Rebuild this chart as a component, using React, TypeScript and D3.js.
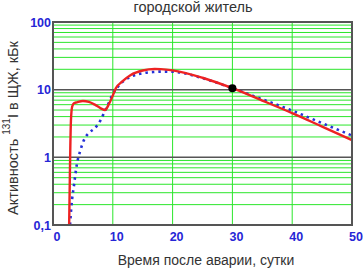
import React from "react";
import * as d3 from "d3";

const titleText = "городской житель";
const xLabelText = "Время после аварии, сутки";

const xTicks = [0, 10, 20, 30, 40, 50];
const xTickLabels = ["0", "10", "20", "30", "40", "50"];
const yDecades = [0.1, 1, 10, 100];
const yDecadeLabels = ["0,1", "1", "10", "100"];

const redDays = [2.7, 2.8, 2.9, 3.0, 3.2, 3.5, 4, 5, 6, 7, 8, 8.7, 9.3, 10, 10.5, 11.5, 13, 15, 17, 18, 20, 25, 30, 35, 40, 45, 50];
const redActivity = [0.1, 0.4, 1.5, 3.5, 5.6, 6.3, 6.5, 6.8, 6.6, 6.0, 5.3, 5.0, 6.0, 8.2, 10.5, 13, 16.5, 19.2, 20.2, 20.1, 19.3, 15.0, 10.5, 6.9, 4.5, 2.85, 1.8];

const blueDays = [2.85, 3.1, 3.5, 4.0, 4.5, 5.3, 6.0, 7.0, 8.0, 8.7, 9.3, 10, 11, 12, 13, 15, 17, 18, 20, 25, 30, 35, 40, 45, 50];
const blueActivity = [0.1, 0.2, 0.38, 0.8, 1.2, 1.9, 2.3, 2.7, 3.6, 4.9, 6.3, 8.6, 11.5, 13.8, 15.5, 17.5, 18.3, 18.5, 18.4, 14.8, 10.5, 7.2, 4.9, 3.2, 2.1];

const markerDay = [30];
const markerActivity = [10.5];

export default function App() {
  const W = 363, H = 268;
  const L = 53, R = 352, T = 22, B = 225;
  const x = d3.scaleLinear().domain([0, 50]).range([L, R]);
  const y = d3.scaleLog().domain([0.1, 100]).range([B, T]);

  const minor: number[] = [];
  [0.1, 1, 10].forEach((d) => {
    for (let k = 2; k <= 9; k++) minor.push(d * k);
  });

  const line = d3
    .line<[number, number]>()
    .x((d) => x(d[0]))
    .y((d) => y(d[1]))
    .curve(d3.curveMonotoneX);

  const redPts = redDays.map((d, i) => [d, redActivity[i]] as [number, number]);
  const bluePts = blueDays.map((d, i) => [d, blueActivity[i]] as [number, number]);

  const font = "'Liberation Sans', Arial, sans-serif";

  return (
    <svg
      width={W}
      height={H}
      style={{ position: "absolute", left: 0, top: 0, background: "#fff" }}
      fontFamily={font}
    >
      <defs>
        <clipPath id="plotclip">
          <rect x={L} y={T} width={R - L} height={B - T} />
        </clipPath>
      </defs>
      <text x={193} y={12} textAnchor="middle" fontSize={14.5} fill="#333">
        {titleText}
      </text>
      {/* minor horizontal grid */}
      {minor.map((v) => (
        <line key={"m" + v} x1={L} x2={R} y1={y(v)} y2={y(v)} stroke="#2be62b" strokeWidth={1} />
      ))}
      {/* vertical grid */}
      {xTicks.slice(1, -1).map((t) => (
        <line key={"v" + t} x1={x(t)} x2={x(t)} y1={T} y2={B} stroke="#2be62b" strokeWidth={1} />
      ))}
      {/* decade lines */}
      {[1, 10].map((v) => (
        <line key={"d" + v} x1={L} x2={R} y1={y(v)} y2={y(v)} stroke="#555" strokeWidth={1.5} />
      ))}
      <g clipPath="url(#plotclip)">
        <path d={line(bluePts) || ""} fill="none" stroke="#2430d8" strokeWidth={2.6} strokeDasharray="2.5,4" />
        <path d={line(redPts) || ""} fill="none" stroke="#ee2222" strokeWidth={2.4} />
      </g>
      {markerDay.map((d, i) => (
        <circle key={"c" + i} cx={x(d)} cy={y(markerActivity[i])} r={4} fill="#000" />
      ))}
      <rect x={L} y={T} width={R - L} height={B - T} fill="none" stroke="#555" strokeWidth={2} />
      {/* x tick labels */}
      {xTicks.map((t, i) => (
        <text key={"xt" + t} x={x(t) + 4} y={241} textAnchor="middle" fontSize={12.5} fontWeight="bold" fill="#2626d6">
          {xTickLabels[i]}
        </text>
      ))}
      {/* y tick labels */}
      {yDecades.map((v, i) => (
        <text key={"yt" + v} x={51} y={y(v) + 4.5} textAnchor="end" fontSize={12.5} fontWeight="bold" fill="#2626d6">
          {yDecadeLabels[i]}
        </text>
      ))}
      <text x={206} y={265} textAnchor="middle" fontSize={14} fill="#333">
        {xLabelText}
      </text>
      <text
        transform={`translate(18, 128) rotate(-90)`}
        textAnchor="middle"
        fontSize={14.5}
        fill="#333"
      >
        <tspan>Активность </tspan>
        <tspan fontSize={10} dy={-8}>131</tspan>
        <tspan dy={8}>I в ЩЖ, кБк</tspan>
      </text>
    </svg>
  );
}
